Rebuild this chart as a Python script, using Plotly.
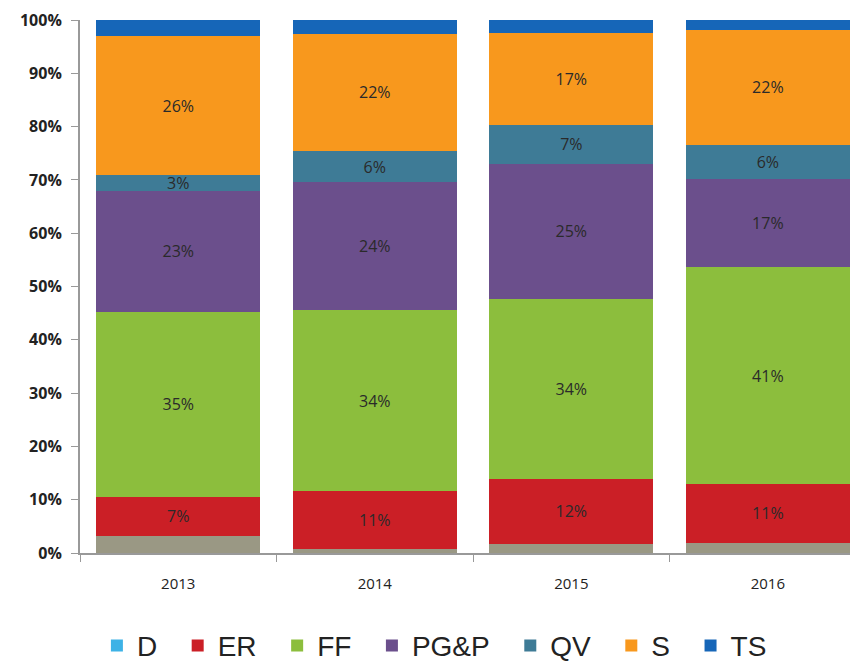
import plotly.graph_objects as go

years = ["2013", "2014", "2015", "2016"]
D = [3.2, 0.8, 1.7, 1.9]
ER = [7.4, 10.8, 12.2, 11.1]
FF = [34.6, 34.0, 33.8, 40.6]
PGP = [22.8, 24.0, 25.3, 16.6]
QV = [2.9, 5.8, 7.3, 6.4]
S = [26.1, 22.0, 17.3, 21.6]
TS = [3.0, 2.6, 2.4, 1.8]

y_tickvals = [0, 10, 20, 30, 40, 50, 60, 70, 80, 90, 100]
y_ticktext = ["<b>%d%%</b>" % v for v in y_tickvals]

series = [
    ("D", D, "#9a9884", False),
    ("ER", ER, "#cb1f26", True),
    ("FF", FF, "#8cbe3d", True),
    ("PG&P", PGP, "#6b4f8c", True),
    ("QV", QV, "#3e7b96", True),
    ("S", S, "#f8981d", True),
    ("TS", TS, "#1666b8", False),
]
legend_colors = {"D": "#3db2e6"}
pad = "\u00a0\u00a0"

fig = go.Figure()
for name, vals, color, labeled in series:
    lc = legend_colors.get(name)
    fig.add_trace(go.Bar(
        x=years, y=vals, name=name + pad,
        marker=dict(color=color, line=dict(width=0)),
        texttemplate="%{y:.0f}%" if labeled else None,
        textposition="inside" if labeled else "none",
        insidetextanchor="middle",
        textangle=0,
        textfont=dict(size=16, color="#2a2a2a", family="Open Sans, Lato, sans-serif"),
        showlegend=lc is None,
        legendgroup=name,
        hoverinfo="skip",
    ))
    if lc is not None:
        # legend entry only (zero-height bar)
        fig.add_trace(go.Bar(
            x=[years[0]], y=[0], name=name + pad, legendgroup=name,
            marker=dict(color=lc, line=dict(width=0)),
            hoverinfo="skip", textposition="none",
        ))

fig.update_layout(
    barmode="stack",
    bargap=0.165,
    width=850, height=671,
    margin=dict(l=80, r=0, t=20, b=118),
    plot_bgcolor="white", paper_bgcolor="white",
    uniformtext=dict(mode="show", minsize=16),
    font=dict(family="Open Sans, Lato, sans-serif", color="#222222"),
    legend=dict(
        orientation="h", x=0.47, xanchor="center", y=-0.221, yanchor="bottom",
        font=dict(size=28, color="#222222", family="Liberation Sans, Arial, sans-serif"),
        traceorder="normal",
    ),
    showlegend=True,
)
fig.update_xaxes(
    range=[-0.5, 3.418], showline=True, linecolor="#999999", linewidth=2,
    ticks="outside", tickson="boundaries", ticklen=7, tickcolor="#999999",
    tickfont=dict(size=15, color="#222222"), showgrid=False,
    ticklabelstandoff=16,
)
fig.update_yaxes(
    range=[0, 100], tickvals=y_tickvals, ticktext=y_ticktext, showline=True,
    linecolor="#999999", linewidth=2, ticks="outside", ticklen=7, tickcolor="#999999",
    tickfont=dict(size=16, color="#222222", family="Open Sans, Lato, sans-serif"),
    showgrid=False, zeroline=False, ticklabelstandoff=6,
)
fig.write_html("out.html", post_script="document.body.style.margin='0';",
               config={"displayModeBar": False})
